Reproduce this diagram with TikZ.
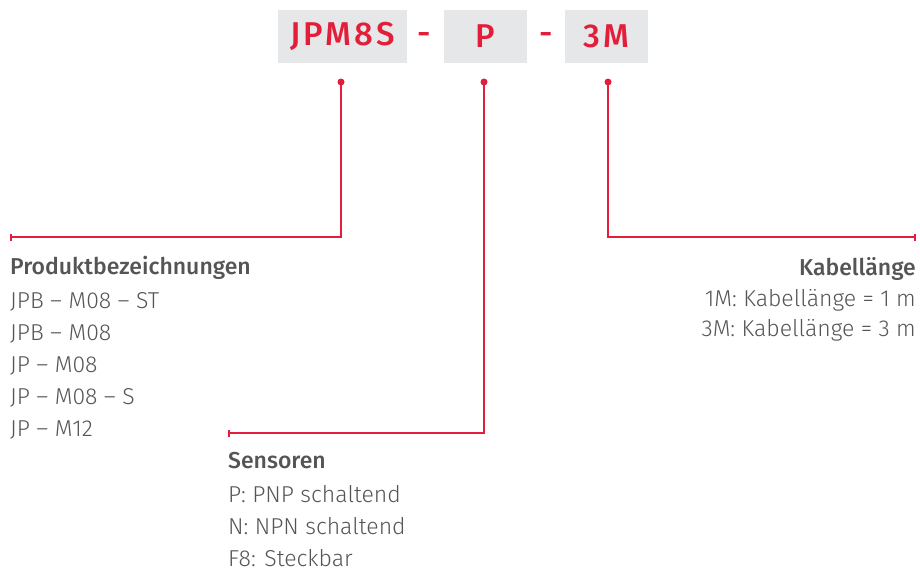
\documentclass[tikz,border=0pt]{standalone}
\usepackage{fontspec}
\setmainfont{Fira Sans}[UprightFont=* Light, BoldFont=* Medium]
\newfontfamily\codefont{Fira Sans Medium}[LetterSpace=10]
\usetikzlibrary{arrows.meta}
\definecolor{codered}{RGB}{226,30,58}
\definecolor{boxgrey}{RGB}{230,231,233}
\definecolor{textgrey}{RGB}{85,85,85}
\tikzset{
	codebox/.style={rectangle, fill=boxgrey, minimum height=53pt, inner sep=0pt, text=codered, font=\fontsize{33}{33}\selectfont\codefont},
	sepdash/.style={text=codered, inner sep=0pt, font=\fontsize{33}{33}\selectfont\codefont},
	pin/.style={circle, fill=codered, minimum size=7pt, inner sep=0pt},
	leader/.style={draw=codered, line width=1.6pt, -{Bar[width=7pt,line width=1.6pt]}},
	keytext/.style={inner sep=0pt, text=textgrey, font=\fontsize{23}{32}\selectfont}
}
\begin{document}
\begin{tikzpicture}[x=1pt,y=-1pt]
	\useasboundingbox (0,0) rectangle (920,570);
	% code boxes
	\node[codebox, minimum width=129pt] (B1) at (342.5,36.5) {JPM8S};
	\node[codebox, minimum width=83pt] (B2) at (485.5,36.5) {P};
	\node[codebox, minimum width=83pt] (B3) at (606.5,36.5) {3M};
	\node[sepdash] (S1) at (424.5,38) {-};
	\node[sepdash] (S2) at (546,38) {-};
	% pins below the boxes
	\node[pin] (D1) at (341,82) {};
	\node[pin] (D2) at (484,82) {};
	\node[pin] (D3) at (608,82) {};
	\node[shape=coordinate] (T1) at (10,237) {};
	\node[shape=coordinate] (T2) at (228,433) {};
	\node[shape=coordinate] (T3) at (916,237) {};
	\draw[leader] (D1.center) |- (T1);
	\draw[leader] (D2.center) |- (T2);
	\draw[leader] (D3.center) |- (T3);
	% descriptions
	\node[keytext, anchor=north west, align=left] (K1) at (10,256) {\textbf{Produktbezeichnungen}\\[2pt]
		JPB – M08 – ST\\
		JPB – M08\\
		JP – M08\\
		JP – M08 – S\\
		JP – M12};
	\node[keytext, anchor=north west, align=left] (K2) at (228,452) {\textbf{Sensoren}\\[2pt]
		P: PNP schaltend\\
		N: NPN schaltend\\
		F8: Steckbar};
	\node[keytext, anchor=north east, align=right] (K3) at (916,257) {\textbf{Kabellänge}\\[-1pt]
		1M: Kabellänge = 1 m\\[-2pt]
		3M: Kabellänge = 3 m};
\end{tikzpicture}
\end{document}
